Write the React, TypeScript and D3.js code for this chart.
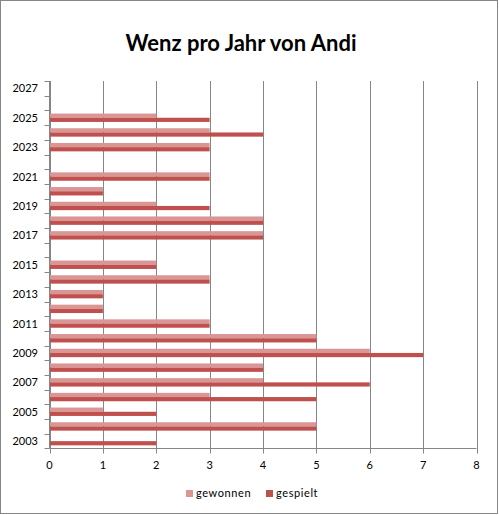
import React from 'react';
import * as d3 from 'd3';

const years = [
  2003, 2004, 2005, 2006, 2007, 2008, 2009, 2010, 2011, 2012, 2013, 2014, 2015,
  2016, 2017, 2018, 2019, 2020, 2021, 2022, 2023, 2024, 2025, 2026, 2027,
];
const gewonnen = [0, 5, 1, 3, 4, 4, 6, 5, 3, 1, 1, 3, 2, 0, 4, 4, 2, 1, 3, 0, 3, 3, 2, 0, 0];
const gespielt = [2, 5, 2, 5, 6, 4, 7, 5, 3, 1, 1, 3, 2, 0, 4, 4, 3, 1, 3, 0, 3, 4, 3, 0, 0];
const xTicks = [0, 1, 2, 3, 4, 5, 6, 7, 8];
const seriesNames = ['gewonnen', 'gespielt'];
const seriesColors = ['#D99694', '#C0504D'];

const W = 499;
const H = 515;
const font = 'Lato, "Open Sans", sans-serif';

export default function App() {
  const margin = { left: 49.5, right: 22.5, top: 81, bottom: 66.5 };
  const x = d3.scaleLinear().domain([0, 8]).range([margin.left, W - margin.right]);
  const y = d3
    .scaleBand<number>()
    .domain(years.slice().reverse())
    .range([margin.top, H - margin.bottom]);
  const inner = d3
    .scaleBand<string>()
    .domain(seriesNames)
    .range([0, y.bandwidth()])
    .paddingInner(0)
    .paddingOuter(0.75);

  const data = [gewonnen, gespielt];
  const plotBottom = H - margin.bottom;

  return (
    <div style={{ position: 'fixed', left: 0, top: 0 }}>
      <svg width={W} height={H} style={{ display: 'block', background: '#fff' }}>
        <rect x={0.5} y={0.5} width={W - 2} height={H - 2} fill="#fff" stroke="#868686" />
        <text
          x={241}
          y={51}
          textAnchor="middle"
          fontFamily={font}
          fontWeight="bold"
          fontSize={22}
          fill="#000"
        >
          Wenz pro Jahr von Andi
        </text>

        {/* vertical gridlines */}
        {xTicks.map(t => (
          <line
            key={'g' + t}
            x1={Math.round(x(t)) + 0.5}
            x2={Math.round(x(t)) + 0.5}
            y1={margin.top}
            y2={plotBottom + 5}
            stroke="#868686"
            strokeWidth={1}
          />
        ))}

        {/* bars */}
        {data.map((vals, si) =>
          years.map((yr, i) => (
            <rect
              key={si + '-' + yr}
              x={x(0)}
              y={(y(yr) as number) + (inner(seriesNames[si]) as number)}
              width={x(vals[i]) - x(0)}
              height={inner.bandwidth()}
              fill={seriesColors[si]}
            />
          ))
        )}

        {/* y axis */}
        <line x1={x(0)} x2={x(0)} y1={margin.top} y2={plotBottom} stroke="#868686" />
        {years.map(yr => (
          <line
            key={'t' + yr}
            x1={x(0) - 5}
            x2={x(0)}
            y1={Math.round(y(yr) as number) + 0.5}
            y2={Math.round(y(yr) as number) + 0.5}
            stroke="#868686"
          />
        ))}
        <line x1={x(0) - 5} x2={x(0)} y1={plotBottom} y2={plotBottom} stroke="#868686" />
        {years
          .filter((_, i) => i % 2 === 0)
          .map(yr => (
            <text
              key={'l' + yr}
              x={38}
              y={(y(yr) as number) + y.bandwidth() / 2 + 4}
              textAnchor="end"
              fontFamily={font}
              fontSize={11}
              fill="#000"
            >
              {yr}
            </text>
          ))}

        {/* x axis */}
        <line x1={x(0)} x2={x(8)} y1={plotBottom} y2={plotBottom} stroke="#868686" />
        {xTicks.map(t => (
          <text
            key={'x' + t}
            x={x(t)}
            y={plotBottom + 20}
            textAnchor="middle"
            fontFamily={font}
            fontSize={11}
            fill="#000"
          >
            {t}
          </text>
        ))}

        {/* legend */}
        {seriesNames.map((name, i) => {
          const lx = i === 0 ? 186 : 266;
          return (
            <g key={name}>
              <rect x={lx} y={490} width={7} height={7} fill={seriesColors[i]} />
              <text
                x={lx + 10}
                y={497}
                fontFamily={font}
                fontSize={11}
                letterSpacing={0.6}
                fill="#000"
              >
                {name}
              </text>
            </g>
          );
        })}
      </svg>
    </div>
  );
}
